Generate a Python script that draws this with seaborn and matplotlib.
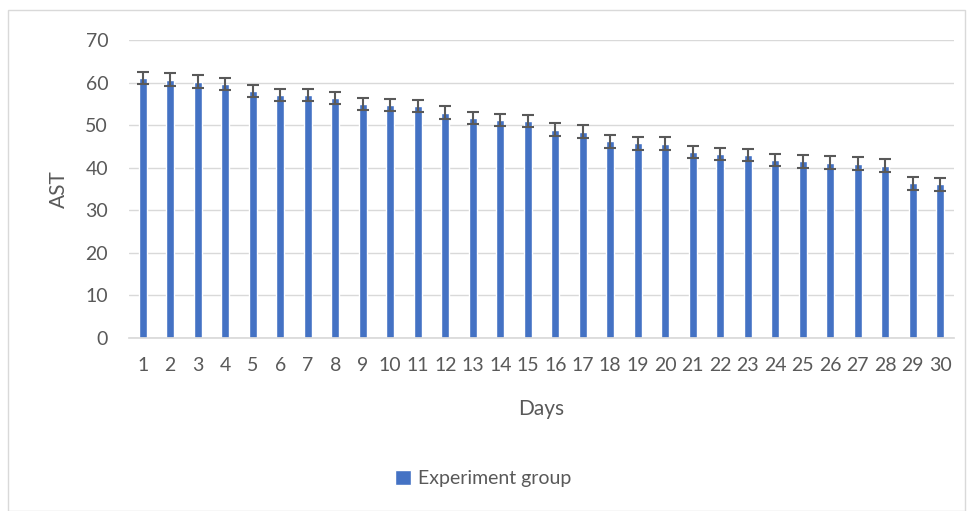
import numpy as np
import pandas as pd
import matplotlib
matplotlib.use("Agg")
import matplotlib.pyplot as plt
import seaborn as sns
from matplotlib.patches import Rectangle

days = [str(d) for d in range(1, 31)]
ast_mean = [61.0, 60.7, 60.2, 59.6, 58.0, 57.1, 57.1, 56.3, 55.0, 54.7,
            54.4, 52.9, 51.6, 51.3, 50.9, 48.9, 48.5, 46.2, 45.7, 45.6,
            43.7, 43.2, 43.0, 41.8, 41.5, 41.2, 40.9, 40.5, 36.3, 36.1]
ast_err = [1.4, 1.5, 1.5, 1.4, 1.4, 1.4, 1.4, 1.4, 1.4, 1.4,
           1.4, 1.5, 1.4, 1.4, 1.4, 1.5, 1.5, 1.5, 1.5, 1.5,
           1.5, 1.5, 1.5, 1.5, 1.5, 1.5, 1.5, 1.5, 1.5, 1.5]

df = pd.DataFrame({"Days": days, "AST": ast_mean, "err": ast_err})

sns.set_theme(style="white")
plt.rcParams["font.family"] = ["Lato", "DejaVu Sans"]
txt = "#595959"

fig = plt.figure(figsize=(9.67, 5.11), dpi=100)
ax = fig.add_axes([0.1334, 0.3386, 0.8532, 0.5831])

sns.barplot(data=df, x="Days", y="AST", color="#4472C4", width=0.29,
            errorbar=None, ax=ax, saturation=1, label="Experiment group")
ax.errorbar(np.arange(len(days)), df["AST"], yerr=df["err"], fmt="none",
            ecolor=txt, elinewidth=1.5, capsize=4.5, capthick=1.5)

ax.set_ylim(0, 70)
ax.set_xlim(-0.5, len(days) - 0.5)
ax.set_yticks(range(0, 71, 10))
ax.yaxis.grid(True, color="#d9d9d9", linewidth=1)
ax.set_axisbelow(True)
for s in ["top", "right", "left"]:
    ax.spines[s].set_visible(False)
ax.spines["bottom"].set_color("#d9d9d9")
ax.tick_params(axis="both", length=0, labelsize=14, colors=txt)
ax.tick_params(axis="y", pad=15)
ax.tick_params(axis="x", pad=14)
ax.set_xlabel("Days", fontsize=15, color=txt, labelpad=18)
ax.set_ylabel("AST", fontsize=15, color=txt, labelpad=12)

ax.legend(loc="center", bbox_to_anchor=(0.5, 0.063), bbox_transform=fig.transFigure,
          frameon=False, fontsize=14, handlelength=0.8, handleheight=0.8,
          handletextpad=0.4, labelcolor=txt)

fig.patches.append(Rectangle((8 / 967, 0.0), 957 / 967, 1 - 10 / 511,
                             transform=fig.transFigure, fill=False,
                             edgecolor="#d9d9d9", linewidth=1))

fig.savefig("out.png", dpi=100)
